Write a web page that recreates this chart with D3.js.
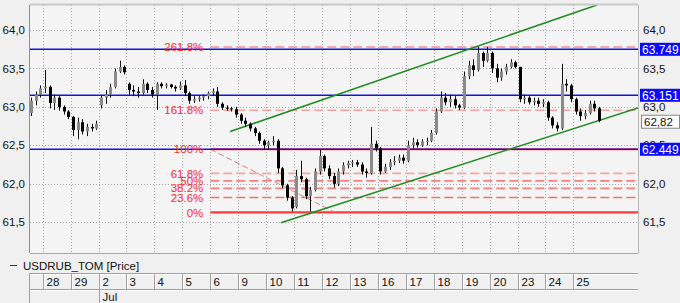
<!DOCTYPE html>
<html><head><meta charset="utf-8">
<script src="https://cdn.jsdelivr.net/npm/d3@7"></script>
<style>body{margin:0;background:#f0f0f0;} svg{display:block;font-family:"Liberation Sans",Arial,sans-serif;}</style>
</head><body><svg id="c" width="680" height="303"></svg>
<script>
// ---- data ----
const dayLabels = ["28","29","2","3","4","5","6","9","10","11","12","13","16","17","18","19","20","23","24","25"];
const monthLabels = ["Jul"];
const monthStartDay = [2];
const yTicks = [61.5, 62.0, 62.5, 63.0, 63.5, 64.0];
const barsPerDay = 6;
const firstBarSlot = 3; // bars start mid-way through the day before "28"
const barOpen = [62.92,63.08,63.16,
 63.24,63.26,63.05,63.12,63.0,62.94,
 62.87,62.7,62.8,62.68,62.74,62.72,
 63.02,63.12,63.16,63.26,63.46,63.52,
 63.3,63.22,63.2,63.18,63.3,63.22,
 63.16,63.3,63.27,63.29,63.26,63.24,
 63.28,63.18,63.08,63.1,63.12,63.14,
 63.18,63.2,63.04,62.99,62.98,62.97,
 62.9,62.82,62.78,62.72,62.66,62.56,
 62.5,62.54,62.56,62.2,61.98,61.82,
 61.7,62.1,62.06,61.84,61.92,62.16,
 62.36,62.2,62.1,62.0,62.16,62.24,
 62.27,62.28,62.25,62.16,62.14,62.52,
 62.46,62.16,62.22,62.28,62.3,62.34,
 62.3,62.5,62.54,62.5,62.55,62.56,
 62.66,62.94,63.12,63.06,63.1,63.02,
 62.99,63.4,63.54,63.48,63.7,63.6,
 63.7,63.5,63.38,63.46,63.52,63.58,
 63.52,63.1,63.12,63.06,63.08,63.04,
 63.06,62.86,62.76,62.72,63.3,63.28,
 63.1,62.94,62.88,62.92,63.04,62.98];
const barHigh = [63.12,63.2,63.28,
 63.48,63.28,63.16,63.14,63.02,62.96,
 62.88,62.86,62.84,62.78,62.78,62.82,
 63.15,63.22,63.3,63.5,63.6,63.54,
 63.32,63.28,63.26,63.36,63.32,63.26,
 63.32,63.32,63.31,63.3,63.28,63.33,
 63.35,63.2,63.14,63.14,63.16,63.2,
 63.24,63.26,63.06,63.02,63.0,63.0,
 62.92,62.86,62.8,62.74,62.68,62.58,
 62.56,62.62,62.58,62.22,62.0,61.84,
 62.18,62.3,62.08,61.96,62.2,62.44,
 62.38,62.24,62.14,62.2,62.28,62.3,
 62.31,62.31,62.28,62.2,62.74,62.56,
 62.48,62.26,62.32,62.36,62.38,62.38,
 62.56,62.6,62.58,62.58,62.6,62.7,
 62.98,63.2,63.18,63.16,63.14,63.04,
 63.46,63.6,63.62,63.78,63.72,63.78,
 63.72,63.56,63.5,63.56,63.62,63.6,
 63.52,63.16,63.14,63.12,63.12,63.1,
 63.08,62.88,62.8,63.56,63.36,63.3,
 63.12,62.98,62.96,63.08,63.08,63.0];
const barLow = [62.88,63.02,63.12,
 63.18,62.98,62.96,62.95,62.9,62.84,
 62.62,62.58,62.64,62.62,62.68,62.7,
 62.98,63.04,63.12,63.24,63.44,63.42,
 63.16,63.14,63.12,63.16,63.18,63.12,
 62.96,63.24,63.24,63.24,63.2,63.22,
 63.14,63.04,63.05,63.07,63.08,63.1,
 63.14,63.0,62.96,62.95,62.94,62.86,
 62.78,62.74,62.68,62.62,62.52,62.44,
 62.44,62.5,62.14,61.94,61.78,61.64,
 61.68,62.02,61.8,61.64,61.9,62.12,
 62.16,62.06,61.95,61.97,62.12,62.2,
 62.22,62.22,62.12,62.08,62.12,62.42,
 62.12,62.14,62.18,62.24,62.27,62.26,
 62.28,62.46,62.47,62.48,62.5,62.54,
 62.64,62.92,63.02,63.0,62.98,62.96,
 62.97,63.36,63.4,63.46,63.52,63.58,
 63.44,63.32,63.34,63.42,63.5,63.5,
 63.06,63.04,63.03,63.02,63.0,63.0,
 62.82,62.72,62.68,62.7,63.2,63.06,
 62.9,62.82,62.84,62.9,62.94,62.8];
const barClose = [63.08,63.16,63.24,
 63.26,63.05,63.12,63.0,62.94,62.87,
 62.7,62.8,62.68,62.74,62.72,62.78,
 63.12,63.16,63.26,63.46,63.52,63.45,
 63.22,63.2,63.18,63.3,63.22,63.16,
 63.3,63.27,63.29,63.26,63.24,63.28,
 63.18,63.08,63.1,63.12,63.14,63.18,
 63.2,63.04,62.99,62.98,62.97,62.9,
 62.82,62.78,62.72,62.66,62.56,62.5,
 62.54,62.56,62.2,61.98,61.82,61.68,
 62.1,62.06,61.84,61.92,62.16,62.36,
 62.2,62.1,62.0,62.16,62.24,62.27,
 62.28,62.25,62.16,62.14,62.52,62.46,
 62.16,62.22,62.28,62.3,62.34,62.3,
 62.5,62.54,62.5,62.55,62.56,62.66,
 62.94,63.12,63.06,63.1,63.02,62.99,
 63.4,63.54,63.48,63.7,63.6,63.7,
 63.5,63.38,63.46,63.52,63.58,63.52,
 63.1,63.12,63.06,63.08,63.04,63.06,
 62.86,62.76,62.72,63.3,63.28,63.1,
 62.94,62.88,62.92,63.04,62.98,62.82];
const lastPrice = 62.82;
const levelValues = [63.749, 63.151, 62.449];
const levelLabels = ["63.749", "63.151", "62.449"];
const fibStartDay = 6.0;
const fibLow = 61.627, fibHigh = 62.449;
const fibRatios = [0, 23.6, 38.2, 50, 61.8, 100, 161.8, 261.8];
const fibLabels = ["0%","23.6%","38.2%","50%","61.8%","100%","161.8%","261.8%"];
const fibTrend = [[6.0, 62.449], [10.47, 61.627]];
const channelLower = [[8.53, 61.494], [21.314, 62.987]];
const channelUpper = [[6.71, 62.679], [19.84, 64.325]];
const legendLabel = "USDRUB_TOM [Price]";

// ---- chart ----
const svg = d3.select("#c");
const L = 30, R = 638, T = 5, B = 253;
const x = d3.scaleLinear().domain([-0.455, 21.314]).range([L, R]);
const y = d3.scaleLinear().domain([61.1, 64.325]).range([B, T]);
const fmt = d3.formatLocale({decimal: ",", thousands: " ", grouping: [3], currency: ["", ""]}).format(".1f");

svg.append("rect").attr("width", 680).attr("height", 303).attr("fill", "#f0f0f0");
svg.append("rect").attr("x", L).attr("y", T).attr("width", R - L).attr("height", B - T).attr("fill", "#f4f4f4");
svg.append("defs").append("clipPath").attr("id", "pc").append("rect")
  .attr("x", L).attr("y", T).attr("width", R - L).attr("height", B - T);

// grid
const grid = svg.append("g").attr("stroke", "#a4a4a4").attr("stroke-dasharray", "1,2");
yTicks.forEach(v => grid.append("line").attr("x1", L).attr("x2", R).attr("y1", Math.round(y(v)) + 0.5).attr("y2", Math.round(y(v)) + 0.5));
dayLabels.forEach((d, i) => grid.append("line").attr("x1", Math.round(x(i)) + 0.5).attr("x2", Math.round(x(i)) + 0.5).attr("y1", T).attr("y2", B));

const plot = svg.append("g").attr("clip-path", "url(#pc)");

// fib levels
const fibVal = r => fibLow + r / 100 * (fibHigh - fibLow);
const fibColor = {0: "#ff3a3a", 23.6: "#f27070", 38.2: "#f28080", 50: "#f28080", 61.8: "#f4a4a4", 100: "#ff4040", 161.8: "#f4a0a0", 261.8: "#f29090"};
fibRatios.forEach((r, i) => {
  const solid = (r === 0 || r === 100);
  plot.append("line").attr("x1", x(fibStartDay)).attr("x2", R)
    .attr("y1", y(fibVal(r))).attr("y2", y(fibVal(r)))
    .attr("stroke", fibColor[r]).attr("stroke-width", solid ? 2.2 : 1.6)
    .attr("stroke-dasharray", solid ? null : "9,4");
  svg.append("text").attr("x", x(fibStartDay) - 7).attr("y", y(fibVal(r))).attr("dy", "0.36em")
    .attr("text-anchor", "end").attr("font-size", 11.5).attr("fill", "#ff2a2a").text(fibLabels[i]);
});
plot.append("line").attr("x1", x(fibTrend[0][0])).attr("y1", y(fibTrend[0][1]))
  .attr("x2", x(fibTrend[1][0])).attr("y2", y(fibTrend[1][1]))
  .attr("stroke", "#f07878").attr("stroke-width", 1).attr("stroke-dasharray", "6,3");

// blue levels
levelValues.forEach(v => plot.append("line").attr("x1", L).attr("x2", R).attr("y1", y(v)).attr("y2", y(v))
  .attr("stroke", "#1414dc").attr("stroke-width", 1.5));

// channel
[channelLower, channelUpper].forEach(c => plot.append("line")
  .attr("x1", x(c[0][0])).attr("y1", y(c[0][1])).attr("x2", x(c[1][0])).attr("y2", y(c[1][1]))
  .attr("stroke", "#1f8c1f").attr("stroke-width", 1.5));

// candles
const bars = barClose.map((c, i) => ({t: -1 + (i + firstBarSlot + 0.5) / barsPerDay, o: barOpen[i], h: barHigh[i], l: barLow[i], c}));
const cg = plot.append("g");
bars.forEach(b => {
  const cx = Math.round(x(b.t)) + 0.5;
  cg.append("line").attr("x1", cx).attr("x2", cx).attr("y1", y(b.h)).attr("y2", y(b.l)).attr("stroke", "#111").attr("stroke-width", 1);
  const top = y(Math.max(b.o, b.c)), bot = y(Math.min(b.o, b.c));
  cg.append("rect").attr("x", cx - 1.5).attr("width", 3).attr("y", top).attr("height", Math.max(1, bot - top))
    .attr("fill", b.c >= b.o ? "#8a8a8a" : "#000");
});

// frame
svg.append("line").attr("x1", L).attr("x2", R).attr("y1", T - 0.5).attr("y2", T - 0.5).attr("stroke", "#c8c8c8").attr("stroke-width", 2);
svg.append("line").attr("x1", R + 0.5).attr("x2", R + 0.5).attr("y1", T).attr("y2", B).attr("stroke", "#b8b8b8");
svg.append("line").attr("x1", L).attr("x2", R).attr("y1", B + 0.5).attr("y2", B + 0.5).attr("stroke", "#a8a8a8");
svg.append("line").attr("x1", L - 0.5).attr("x2", L - 0.5).attr("y1", T).attr("y2", B).attr("stroke", "#909090");

// axis labels
yTicks.forEach(v => {
  svg.append("text").attr("x", 25).attr("y", y(v)).attr("dy", "0.36em").attr("text-anchor", "end")
    .attr("font-size", 11.5).attr("fill", "#111").text(fmt(v));
  svg.append("text").attr("x", 643).attr("y", y(v)).attr("dy", "0.36em")
    .attr("font-size", 11.5).attr("fill", "#111").text(fmt(v));
});
levelValues.forEach((v, i) => {
  svg.append("rect").attr("x", 640).attr("y", y(v) - 6.5).attr("width", 40).attr("height", 13).attr("fill", "#0a0aff");
  svg.append("text").attr("x", 642).attr("y", y(v)).attr("dy", "0.36em").attr("font-size", 12).attr("fill", "#fff").text(levelLabels[i]);
});
svg.append("rect").attr("x", 641.5).attr("y", y(lastPrice) - 5.5).attr("width", 38).attr("height", 13)
  .attr("fill", "#fff").attr("stroke", "#888");
svg.append("text").attr("x", 644).attr("y", y(lastPrice) + 1).attr("dy", "0.36em").attr("font-size", 11.5).attr("fill", "#111")
  .text(lastPrice.toFixed(2).replace(".", ","));

// legend
svg.append("line").attr("x1", 10).attr("x2", 17).attr("y1", 265.5).attr("y2", 265.5).attr("stroke", "#333");
svg.append("text").attr("x", 23).attr("y", 270).attr("font-size", 11.5).attr("fill", "#111").text(legendLabel);

// date axis
const ax = svg.append("g");
ax.append("line").attr("x1", L).attr("x2", R).attr("y1", 273.5).attr("y2", 273.5).attr("stroke", "#a0a0a0");
ax.append("line").attr("x1", L).attr("x2", R).attr("y1", 274.5).attr("y2", 274.5).attr("stroke", "#ffffff");
ax.append("line").attr("x1", L).attr("x2", R).attr("y1", 289.5).attr("y2", 289.5).attr("stroke", "#a0a0a0");
ax.append("line").attr("x1", L).attr("x2", R).attr("y1", 290.5).attr("y2", 290.5).attr("stroke", "#ffffff");
ax.append("line").attr("x1", L - 0.5).attr("x2", L - 0.5).attr("y1", 273).attr("y2", 303).attr("stroke", "#a0a0a0");
dayLabels.forEach((d, i) => {
  const sx = Math.round(x(i)) + 0.5;
  ax.append("line").attr("x1", sx).attr("x2", sx).attr("y1", 274).attr("y2", 289).attr("stroke", "#a0a0a0");
  ax.append("line").attr("x1", sx + 1).attr("x2", sx + 1).attr("y1", 274).attr("y2", 289).attr("stroke", "#fff");
  ax.append("text").attr("x", sx + 3).attr("y", 286).attr("font-size", 11.5).attr("fill", "#111").text(d);
});
monthLabels.forEach((m, i) => {
  const sx = Math.round(x(monthStartDay[i])) + 0.5;
  ax.append("line").attr("x1", sx).attr("x2", sx).attr("y1", 290).attr("y2", 303).attr("stroke", "#a0a0a0");
  ax.append("text").attr("x", sx + 3).attr("y", 301).attr("font-size", 11.5).attr("fill", "#111").text(m);
});
</script></body></html>
